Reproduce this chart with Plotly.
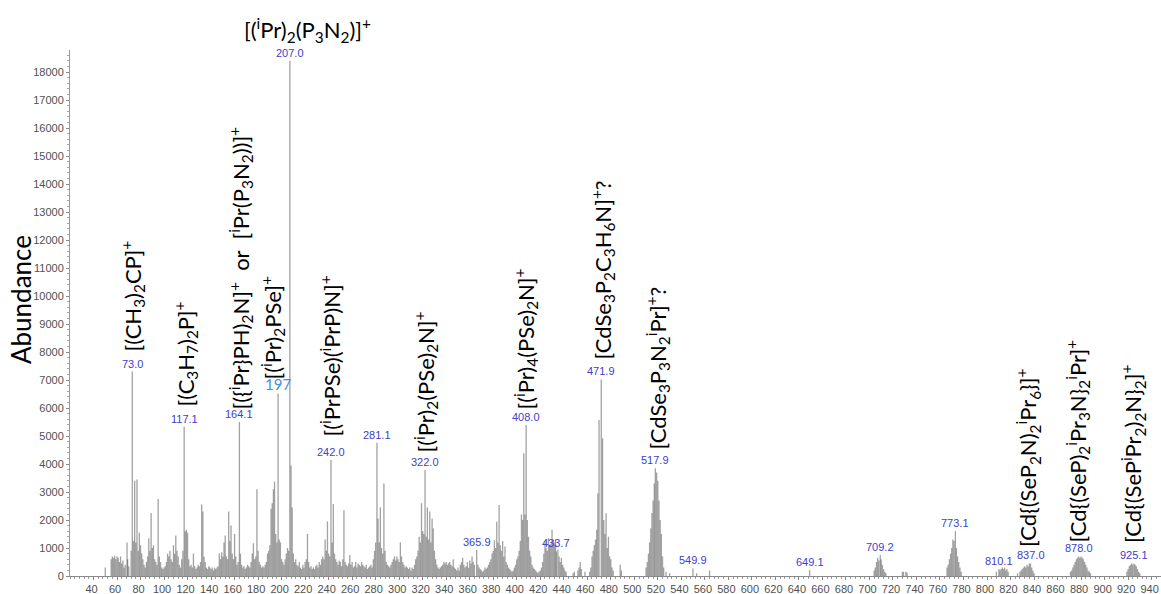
import plotly.graph_objects as go

# ---------------- data (m/z, abundance) ----------------
mz = [50, 55, 56, 57, 58, 59, 60, 61, 62, 63, 64, 65, 66, 67, 68.5, 69, 70, 72, 73.0, 74, 75, 76, 77, 78, 79, 80,
      81, 82, 83, 84, 85, 86, 87, 88, 89, 90, 91, 92, 93, 94, 95, 96, 97, 98, 99, 100, 101, 102, 103, 104, 105,
      106, 107, 108, 109, 110, 111, 112, 113, 114, 115, 116, 117.1, 118, 119, 120, 121, 122, 123, 124, 125, 126,
      127, 128, 129, 130, 131, 132, 133, 134, 135, 136, 137, 138, 139, 140, 141, 142, 143, 144, 145, 146, 147,
      148, 149, 150, 151, 152, 153, 154, 155, 156, 157, 158, 159, 160, 161, 162, 163, 164.1, 165, 166, 167, 168,
      169, 170, 171, 172, 173, 174, 175, 176, 177, 178, 179, 180, 181, 182, 183, 184, 185, 186, 187, 188, 189,
      190, 191, 192, 193, 194, 195, 196, 197, 198, 199, 200, 201, 202, 203, 204, 205, 206, 207.0, 208, 209, 210,
      211, 212, 213, 214, 215, 216, 217, 218, 219, 220, 221, 222, 223, 224, 225, 226, 227, 228, 229, 230, 231,
      232, 233, 234, 235, 236, 237, 238, 239, 240, 241, 242.0, 243, 244, 245, 246, 247, 248, 249, 250, 251, 252,
      253, 254, 255, 256, 257, 258, 259, 260, 261, 262, 263, 264, 265, 266, 267, 268, 269, 270, 271, 272, 273,
      274, 275, 276, 277, 278, 279, 280, 281.1, 282, 283, 284, 285, 286, 287, 288, 289, 290, 291, 292, 293, 294,
      295, 296, 297, 298, 299, 300, 301, 302, 303, 304, 305, 306, 307, 308, 309, 310, 311, 312, 313, 314, 315,
      316, 317, 318, 319, 320, 321, 322.0, 323, 324, 325, 326, 327, 328, 329, 330, 331, 332, 333, 334, 335, 336,
      337, 338, 339, 340, 341, 342, 343, 344, 345, 346, 347, 348, 349, 350, 351, 352, 353, 354, 355, 356, 357,
      358, 359, 360, 361, 362, 363, 364, 365.9, 367, 368, 369, 370, 371, 372, 373, 374, 375, 376, 377, 378, 379,
      380, 381, 382, 383, 384, 385, 386, 387, 388, 389, 390, 391, 392, 393, 394, 395, 396, 397, 398, 399, 400,
      401, 402, 403, 404, 405, 406, 407, 408.0, 409, 410, 411, 412, 413, 414, 415, 416, 417, 418, 419, 420, 421,
      422, 423, 424, 425, 426, 427, 428, 429, 430, 431, 432, 433, 433.7, 435, 436, 437, 438, 439, 440, 441, 442,
      448, 449, 452, 453, 454, 455, 458, 462, 463, 464, 465, 466, 467, 468, 469, 470, 471.9, 473, 474, 475, 476,
      477, 478, 479, 480, 481, 482, 488, 489, 510, 511, 512, 513, 514, 515, 516, 517, 517.9, 519, 520, 521, 522,
      523, 524, 525, 527, 530, 549.9, 553, 564, 649.1, 704, 705, 706, 707, 708, 709.2, 710, 711, 712, 713, 714,
      728, 729, 731, 732, 766, 767, 768, 769, 770, 771, 772, 773.1, 774, 775, 776, 777, 778, 808, 810.1, 811, 812,
      813, 814, 815, 816, 817, 818, 826, 828, 829, 830, 831, 832, 833, 834, 835, 836, 837.0, 838, 839, 840, 871,
      872, 873, 874, 875, 876, 877, 878.0, 879, 880, 881, 882, 883, 884, 885, 886, 887, 888, 919, 920, 921, 922,
      923, 924, 925.1, 926, 927, 928, 929, 930]

abundance = [300, 600, 700, 650, 720, 600, 700, 650, 500, 700, 450, 550, 300, 400, 1200, 600, 350, 900, 7300, 1250,
             3400, 1200, 3450, 900, 1550, 1100, 800, 600, 400, 300, 500, 700, 1350, 900, 2250, 1000, 1100, 600, 500,
             400, 2750, 700, 500, 300, 250, 300, 350, 500, 800, 700, 900, 600, 500, 1100, 800, 1450, 900, 700, 400,
             300, 600, 900, 5330, 1600, 1650, 1550, 600, 350, 400, 300, 800, 350, 250, 300, 400, 350, 500, 2550,
             2300, 700, 500, 300, 250, 350, 300, 250, 300, 200, 300, 250, 300, 350, 800, 600, 850, 700, 1200, 1450,
             700, 600, 2300, 1250, 1800, 800, 600, 1500, 700, 400, 500, 5500, 800, 400, 300, 350, 250, 300, 400, 350,
             300, 500, 800, 1170, 600, 700, 3100, 900, 500, 400, 300, 350, 300, 400, 500, 800, 900, 1100, 2400, 2600,
             3100, 3370, 1500, 1200, 6520, 1300, 1200, 600, 500, 400, 600, 800, 1000, 900, 18400, 3950, 2450, 800,
             500, 600, 400, 350, 500, 300, 250, 400, 300, 500, 600, 1500, 500, 300, 350, 250, 300, 250, 350, 400,
             300, 500, 400, 600, 700, 600, 1300, 900, 1950, 800, 700, 4140, 1200, 2570, 800, 600, 500, 400, 550, 500,
             350, 600, 2350, 500, 400, 350, 450, 750, 400, 500, 300, 350, 500, 300, 450, 400, 350, 500, 400, 350, 300,
             400, 250, 300, 350, 400, 300, 600, 900, 1200, 4760, 2050, 1200, 2450, 1000, 800, 3300, 900, 500, 400,
             350, 300, 400, 500, 600, 700, 550, 700, 600, 500, 1200, 700, 500, 400, 300, 350, 300, 250, 300, 200, 300,
             250, 400, 600, 700, 900, 1400, 1200, 2600, 1600, 1500, 3790, 1400, 2450, 1300, 2300, 1200, 2050, 1700,
             900, 600, 400, 300, 250, 300, 350, 400, 500, 450, 500, 400, 450, 500, 400, 350, 600, 300, 250, 200, 300,
             200, 400, 500, 650, 400, 300, 350, 500, 300, 550, 450, 700, 500, 400, 930, 400, 300, 250, 200, 150, 200,
             300, 250, 300, 400, 500, 600, 800, 900, 1270, 1000, 1940, 1200, 2540, 1100, 900, 1250, 700, 1050, 500,
             400, 300, 250, 200, 150, 200, 300, 400, 600, 700, 900, 1250, 2200, 2000, 4380, 2200, 5390, 2000, 1400,
             900, 700, 400, 300, 250, 200, 150, 100, 150, 200, 300, 500, 800, 1250, 1000, 900, 1350, 1100, 1150, 1650,
             1300, 1200, 1300, 880, 950, 700, 500, 650, 400, 300, 200, 150, 100, 150, 200, 300, 500, 250, 150, 150,
             300, 700, 900, 1100, 1300, 1650, 2950, 5570, 7020, 4920, 2000, 1500, 2240, 1000, 1400, 700, 600, 300,
             200, 400, 200, 300, 500, 800, 1200, 1700, 2250, 2700, 3300, 3850, 3700, 3400, 2700, 2000, 1500, 700, 300,
             150, 100, 270, 100, 200, 210, 200, 300, 500, 650, 550, 750, 600, 400, 250, 150, 100, 150, 150, 150, 120,
             300, 400, 600, 800, 1000, 1300, 1250, 1600, 1000, 700, 500, 300, 150, 150, 250, 200, 250, 300, 250, 300,
             200, 250, 150, 100, 150, 200, 250, 300, 350, 300, 400, 350, 450, 450, 300, 200, 100, 150, 200, 300, 400,
             500, 600, 650, 700, 650, 700, 650, 600, 500, 400, 300, 200, 150, 100, 150, 250, 350, 400, 450, 400, 450,
             400, 350, 250, 150, 100]

label_mz = [73.0, 117.1, 164.1, 207.0, 242.0, 281.1, 322.0, 365.9, 408.0, 433.7, 471.9, 517.9, 549.9, 649.1,
            709.2, 773.1, 810.1, 837.0, 878.0, 925.1]
label_text = ["73.0", "117.1", "164.1", "207.0", "242.0", "281.1", "322.0", "365.9", "408.0", "433.7", "471.9",
              "517.9", "549.9", "649.1", "709.2", "773.1", "810.1", "837.0", "878.0", "925.1"]
extra_label_mz = 197
extra_label_text = "197"

x_ticks = list(range(40, 941, 20))
y_ticks = list(range(0, 18001, 1000))

ion_labels = [
    "[(CH<sub>3</sub>)<sub>2</sub>CP]<sup>+</sup>",
    "[(C<sub>3</sub>H<sub>7</sub>)<sub>2</sub>P]<sup>+</sup>",
    "[({<sup>i</sup>Pr}PH)<sub>2</sub>N]<sup>+</sup>  or  [<sup>i</sup>Pr(P<sub>3</sub>N<sub>2</sub>))]<sup>+</sup>",
    "[(<sup>i</sup>Pr)<sub>2</sub>PSe]<sup>+</sup>",
    "[(<sup>i</sup>PrPSe)(<sup>i</sup>PrP)N]<sup>+</sup>",
    "[(<sup>i</sup>Pr)<sub>2</sub>(PSe)<sub>2</sub>N]<sup>+</sup>",
    "[(<sup>i</sup>Pr)<sub>4</sub>(PSe)<sub>2</sub>N]<sup>+</sup>",
    "[CdSe<sub>3</sub>P<sub>2</sub>C<sub>3</sub>H<sub>6</sub>N]<sup>+</sup>?",
    "[CdSe<sub>3</sub>P<sub>3</sub>N<sub>2</sub><sup>i</sup>Pr]<sup>+</sup>?",
    "[Cd{(SeP<sub>2</sub>N)<sub>2</sub><sup>i</sup>Pr<sub>6</sub>}]<sup>+</sup>",
    "[Cd{(SeP)<sub>2</sub><sup>i</sup>Pr<sub>3</sub>N}<sub>2</sub><sup>i</sup>Pr]<sup>+</sup>",
    "[Cd{(SeP<sup>i</sup>Pr<sub>2</sub>)<sub>2</sub>N}<sub>2</sub>]<sup>+</sup>",
]
title_label = "[(<sup>i</sup>Pr)<sub>2</sub>(P<sub>3</sub>N<sub>2</sub>)]<sup>+</sup>"

# ---------------- layout geometry (page pixels) ----------------
W, H = 1161, 594
L, T, PB = 70, 50, 576       # plot area: left, top, bottom (page pixels); right = page edge
B = H - PB
R = 0
XR = [20, 948]
YR = [0, 18786]
pw, ph = W - L - R, H - T - B


def xpx(px):
    return XR[0] + (px - L) / pw * (XR[1] - XR[0])


def ypx(py):
    return YR[0] + (PB - py) / ph * (YR[1] - YR[0])


def xpaper(px):
    return (px - L) / pw


def ypaper(py):
    return (PB - py) / ph


# stick spectrum
xs, ys = [], []
for m, a in zip(mz, abundance):
    xs += [m, m, None]
    ys += [0, a, None]

fig = go.Figure()
fig.add_trace(go.Scatter(x=xs, y=ys, mode="lines",
                         line=dict(color="rgba(70,70,70,0.5)", width=1.3),
                         hoverinfo="skip", showlegend=False))

ann = []
peak_lookup = dict(zip(mz, abundance))
for m, t in zip(label_mz, label_text):
    ann.append(dict(x=m, y=peak_lookup[m], xref="x", yref="y", text=t, showarrow=False,
                    yanchor="bottom", yshift=0,
                    font=dict(family="Liberation Sans, Arial", size=11, color="#4040cc")))
ann.append(dict(x=extra_label_mz, y=peak_lookup[extra_label_mz], xref="x", yref="y", text=extra_label_text,
                showarrow=False, yanchor="bottom", yshift=-2,
                font=dict(family="Lato", size=15, color="#4a8fdc")))

# rotated ion labels: (page pixel x centre, page pixel y bottom)
ion_pos = [(132, 354), (185, 409), (240, 412), (272, 382), (330, 439), (425, 455), (525, 412),
           (602, 362), (657, 452), (1028, 549), (1077, 545), (1133, 545)]
for txt, (px, py) in zip(ion_labels, ion_pos):
    ann.append(dict(x=xpx(px), y=ypx(py), xref="x", yref="y", text=txt, showarrow=False,
                    textangle=-90, xanchor="center", yanchor="bottom",
                    font=dict(family="Lato", size=22, color="black")))

ann.append(dict(x=xpaper(307), y=ypaper(30), xref="paper", yref="paper", text=title_label, showarrow=False,
                xanchor="center", yanchor="middle",
                font=dict(family="Lato", size=22, color="black")))
ann.append(dict(x=xpaper(21), y=ypaper(300), xref="paper", yref="paper", text="Abundance",
                showarrow=False, textangle=-90, xanchor="center", yanchor="middle",
                font=dict(family="Lato", size=26, color="black")))

fig.update_layout(
    width=W, height=H,
    margin=dict(l=L, r=R, t=T, b=B, autoexpand=False),
    paper_bgcolor="white", plot_bgcolor="white",
    annotations=ann,
    hovermode=False,
    xaxis=dict(range=XR, tickvals=x_ticks, showgrid=False, zeroline=False,
               showline=True, linecolor="#888", linewidth=1,
               ticks="outside", ticklen=3, tickcolor="#888",
               ticklabelshift=-2,
               minor=dict(dtick=4, ticks="outside", ticklen=2, tickcolor="#999"),
               tickfont=dict(family="Liberation Sans, Arial", size=11, color="#505050"),
               automargin=False),
    yaxis=dict(range=YR, tickvals=y_ticks, tickformat="d", showgrid=False, zeroline=False,
               showline=True, linecolor="#999", linewidth=1,
               ticks="outside", ticklen=3, tickcolor="#888",
               minor=dict(dtick=200, ticks="outside", ticklen=2, tickcolor="#aaa"),
               tickfont=dict(family="Liberation Sans, Arial", size=11, color="#505050"),
               automargin=False),
)

fig.write_html("out.html", config={"displayModeBar": False},
               post_script="document.body.style.margin='0';document.body.style.overflow='hidden';")
